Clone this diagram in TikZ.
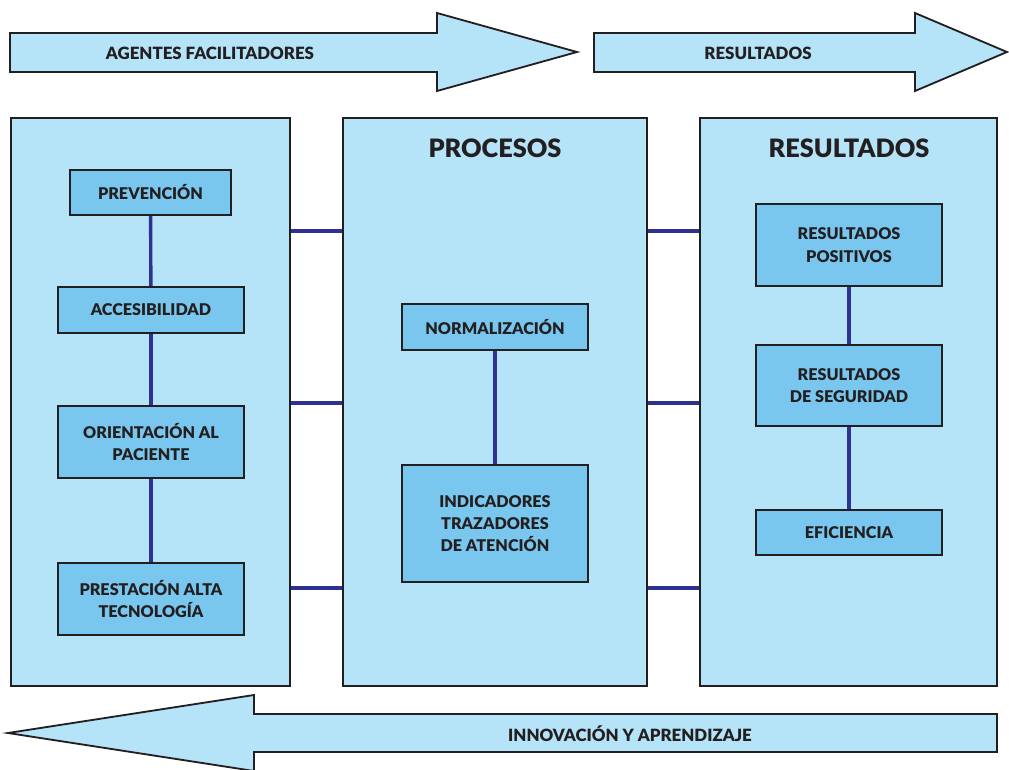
\documentclass[tikz,border=0pt]{standalone}
\usepackage{fontspec}
\setmainfont{Lato}[BoldFont={* Black}]
\definecolor{panelblue}{HTML}{B5E3F8}
\definecolor{boxblue}{HTML}{79C7EE}
\definecolor{linkblue}{HTML}{2E3192}
\definecolor{edge}{HTML}{231F20}
\tikzset{
  panel/.style={draw=edge,fill=panelblue,line width=1.4pt,minimum height=14.2cm},
  item/.style={draw=edge,fill=boxblue,line width=1.5pt,align=center,minimum width=4.65cm,
    font=\bfseries\fontsize{11.5}{15.8}\selectfont,text=edge},
  link/.style={draw=linkblue,line width=2.4pt},
  bigarrow/.style={draw=edge,fill=panelblue,line width=1.3pt,line join=miter},
  title/.style={font=\bfseries\fontsize{18}{20}\selectfont,text=edge},
  arrowtext/.style={font=\bfseries\fontsize{12}{13}\selectfont,text=edge}
}
\begin{document}
\begin{tikzpicture}[x=0.025cm,y=-0.025cm]
\useasboundingbox (0,0) rectangle (1009,770);

\draw[bigarrow] (10,33) -- (437,33) -- (437,13) -- (577,52) -- (437,91) -- (437,72) -- (10,72) -- cycle;
\node[arrowtext] (agentesarrow) at (210,53) {AGENTES FACILITADORES};
\draw[bigarrow] (594,33) -- (915,33) -- (915,13) -- (1007,52) -- (915,91) -- (915,72) -- (594,72) -- cycle;
\node[arrowtext] (resultadosarrow) at (758,53) {RESULTADOS};
\draw[bigarrow] (997,714) -- (254,714) -- (254,695) -- (8,733) -- (254,771) -- (254,752) -- (997,752) -- cycle;
\node[arrowtext] (innovacionarrow) at (630,734) {INNOVACIÓN Y APRENDIZAJE};

\node[panel,minimum width=6.975cm] (agentes) at (150.5,402) {};
\node[panel,minimum width=7.6cm] (procesos) at (495,402) {};
\node[panel,minimum width=7.425cm] (resultados) at (848.5,402) {};
\node[title] (procesostitle) at (495,148) {PROCESOS};
\node[title] (resultadostitle) at (849,148) {RESULTADOS};

\foreach \y in {231,403,588} {
  \draw[link] (agentes.east |- 0,\y) -- (procesos.west |- 0,\y);
  \draw[link] (procesos.east |- 0,\y) -- (resultados.west |- 0,\y);
}

\node[item,minimum width=4.025cm,minimum height=1.125cm] (prevencion) at (150.5,192.5) {PREVENCIÓN};
\node[item,minimum height=1.15cm] (accesibilidad) at (151,310) {ACCESIBILIDAD};
\node[item,minimum height=1.8cm] (orientacion) at (151,442) {ORIENTACIÓN AL\\PACIENTE};
\node[item,minimum height=1.8cm] (prestacion) at (151,599) {PRESTACIÓN ALTA\\TECNOLOGÍA};
\draw[link] (prevencion) -- (accesibilidad);
\draw[link] (accesibilidad) -- (orientacion);
\draw[link] (orientacion) -- (prestacion);

\node[item,minimum height=1.15cm] (normalizacion) at (495,327) {NORMALIZACIÓN};
\node[item,minimum height=2.925cm] (indicadores) at (495,523.5) {INDICADORES\\TRAZADORES\\DE ATENCIÓN};
\draw[link] (normalizacion) -- (indicadores);

\node[item,minimum height=2.05cm] (positivos) at (849,245) {RESULTADOS\\POSITIVOS};
\node[item,minimum height=2.025cm] (seguridad) at (849,385.5) {RESULTADOS\\DE SEGURIDAD};
\node[item,minimum height=1.125cm] (eficiencia) at (849,532.5) {EFICIENCIA};
\draw[link] (positivos) -- (seguridad);
\draw[link] (seguridad) -- (eficiencia);
\end{tikzpicture}
\end{document}
